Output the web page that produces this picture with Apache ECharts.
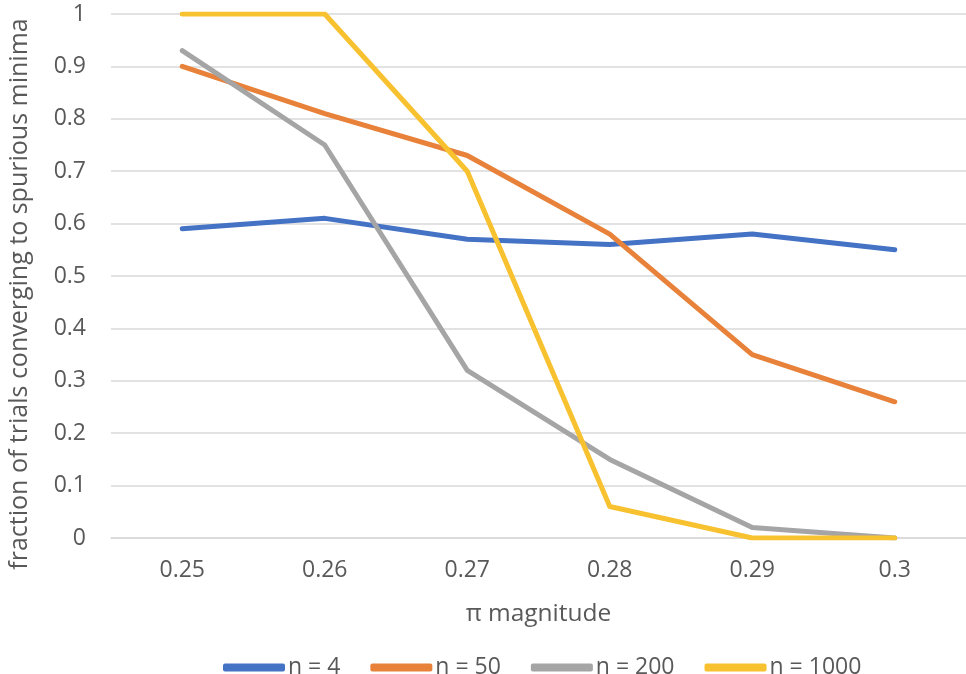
<!DOCTYPE html>
<html><head><meta charset="utf-8">
<script src="https://cdn.jsdelivr.net/npm/echarts@6/dist/echarts.min.js"></script>
<style>html,body{margin:0;padding:0;background:#fff}#c{width:966px;height:674px}</style>
</head><body><div id="c"></div>
<script>
const categories = ['0.25','0.26','0.27','0.28','0.29','0.3'];
const n4 = [0.59, 0.61, 0.57, 0.56, 0.58, 0.55];
const n50 = [0.90, 0.81, 0.73, 0.58, 0.35, 0.26];
const n200 = [0.93, 0.75, 0.32, 0.15, 0.02, 0.00];
const n1000 = [1.00, 1.00, 0.70, 0.06, 0.00, 0.00];
const seriesNames = ['n = 4','n = 50','n = 200','n = 1000'];
const yTitle = 'fraction of trials converging to spurious minima';
const xTitle = 'π magnitude';
const colors = ['#4472C4','#E8823A','#A5A5A5','#F7C12F'];
const font = 'Open Sans';
const txt = '#595959';
const chart = echarts.init(document.getElementById('c'));
const mk = (name, data, i) => ({
  name, type:'line', data, symbol:'none', smooth:false,
  lineStyle:{width:5, color:colors[i], cap:'round', join:'round'},
  itemStyle:{color:colors[i]}
});
chart.setOption({
  animation:false,
  textStyle:{fontFamily:font},
  grid:{left:111, right:0, top:14, bottom:136, containLabel:false},
  xAxis:{type:'category', data:categories, boundaryGap:true,
    name:xTitle, nameLocation:'middle', nameGap:64,
    nameTextStyle:{fontSize:24.5, color:txt, fontFamily:font},
    axisLine:{show:true, lineStyle:{color:'#d9d9d9', width:1.5}},
    axisTick:{show:false},
    axisLabel:{fontSize:23, color:txt, margin:21, fontFamily:font}
  },
  yAxis:{type:'value', min:0, max:1, interval:0.1,
    axisLine:{show:false}, axisTick:{show:false},
    axisLabel:{fontSize:23, color:txt, margin:25, fontFamily:font,
      formatter:v=>String(Math.round(v*10)/10)},
    splitLine:{lineStyle:{color:'#d9d9d9', width:1.5}}
  },
  graphic:[{type:'text', x:20, y:294, rotation:Math.PI/2,
    style:{text:yTitle, font:'25px "Open Sans"', fill:txt, textAlign:'center', textVerticalAlign:'middle'}}],
  legend:{top:651, left:218, itemWidth:62, itemHeight:8, itemGap:30, icon:'roundRect',
    textStyle:{fontSize:23, color:txt, fontFamily:font, padding:[0,0,0,-2]},
    data:seriesNames},
  series:[mk(seriesNames[0],n4,0), mk(seriesNames[1],n50,1), mk(seriesNames[2],n200,2), mk(seriesNames[3],n1000,3)]
});
</script></body></html>
